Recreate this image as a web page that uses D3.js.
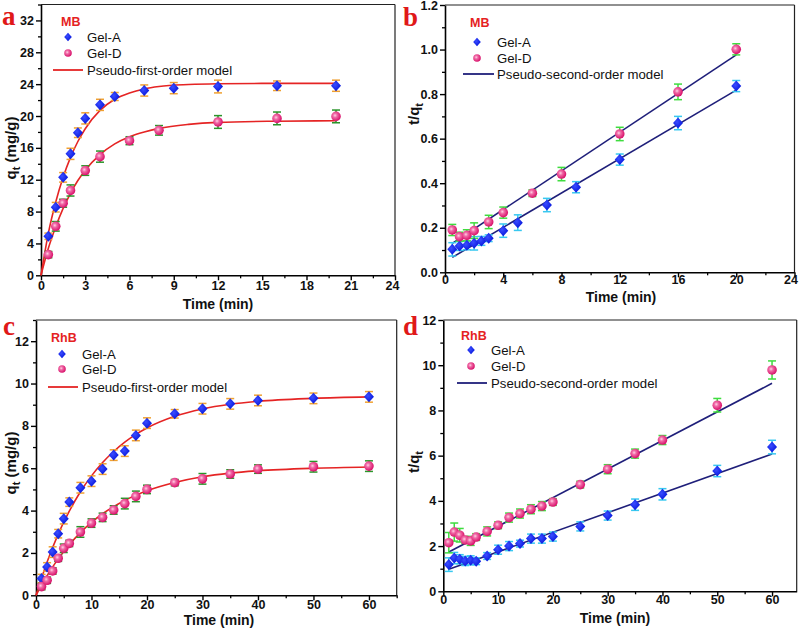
<!DOCTYPE html>
<html><head><meta charset="utf-8">
<script src="https://cdn.jsdelivr.net/npm/d3@7"></script>
<style>body{margin:0;background:#fff}</style></head>
<body>
<svg id="chart" width="800" height="632"></svg>
<script>
// ---------- Panel a : MB, pseudo-first-order ----------
const tA_a = [0.5,1,1.5,2,2.5,3,4,5,7,9,12,16,20];
const qA_a = [4.9,8.55,12.3,15.25,17.9,19.7,21.4,22.45,23.2,23.5,23.7,23.8,23.8];
const eA_a = [0.4,0.6,0.6,0.7,0.6,0.7,0.7,0.5,0.7,0.7,0.8,0.6,0.7];
const tD_a = [0.5,1,1.5,2,3,4,6,8,12,16,20];
const qD_a = [2.6,6.15,9.05,10.65,13.15,14.9,16.9,18.2,19.25,19.7,19.95];
const eD_a = [0.4,0.6,0.5,0.7,0.6,0.7,0.5,0.6,0.8,0.8,0.8];
const fitT_a = [0,0.5,1,1.5,2,2.5,3,4,5,6,7,8,10,12,16,20];
const fitA_a = [0,5.3,9.2,12.3,14.8,16.8,18.4,20.7,22.1,22.9,23.4,23.7,23.95,24.05,24.1,24.1];
const fitD_a = [0,3.4,6.1,8.4,10.3,11.9,13.2,15.15,16.5,17.4,18.0,18.45,18.95,19.2,19.35,19.4];
// ---------- Panel b : MB, pseudo-second-order ----------
const tA_b = [0.5,1,1.5,2,2.5,3,4,5,7,9,12,16,20];
const qA_b = [0.103,0.118,0.121,0.130,0.141,0.153,0.187,0.223,0.302,0.382,0.506,0.670,0.836];
const eA_b = [0.03,0.02,0.02,0.03,0.02,0.015,0.03,0.035,0.03,0.025,0.025,0.03,0.025];
const tD_b = [0.5,1,1.5,2,3,4,6,8,12,16,20];
const qD_b = [0.19,0.16,0.166,0.187,0.226,0.268,0.355,0.441,0.621,0.81,1.001];
const eD_b = [0.025,0.02,0.025,0.035,0.03,0.025,0.015,0.03,0.03,0.035,0.025];
const lineT_b = [0.5,20];
const lineA_b = [0.067,0.818];
const lineD_b = [0.13,0.976];
// ---------- Panel c : RhB, pseudo-first-order ----------
const tA_c = [1,2,3,4,5,6,8,10,12,14,16,18,20,25,30,35,40,50,60];
const qA_c = [0.79,1.34,2.04,2.91,3.62,4.40,5.08,5.39,5.96,6.62,6.81,7.55,8.13,8.57,8.81,9.04,9.2,9.3,9.37];
const eA_c = [0.2,0.2,0.25,0.2,0.25,0.2,0.25,0.25,0.25,0.25,0.25,0.25,0.25,0.2,0.25,0.25,0.25,0.25,0.25];
const tD_c = [1,2,3,4,5,6,8,10,12,14,16,18,20,25,30,35,40,50,60];
const qD_c = [0.41,0.71,1.15,1.75,2.22,2.45,2.99,3.41,3.68,4.03,4.33,4.67,5.0,5.32,5.5,5.73,5.96,6.07,6.1];
const eD_c = [0.15,0.15,0.15,0.15,0.2,0.15,0.25,0.2,0.2,0.2,0.25,0.25,0.2,0.15,0.25,0.2,0.2,0.25,0.25];
const fitT_c = [0,2,4,6,8,10,12,14,16,18,20,25,30,35,40,50,60];
const fitA_c = [0,1.57,2.89,3.97,4.89,5.64,6.27,6.79,7.23,7.6,7.9,8.45,8.8,9.02,9.16,9.3,9.37];
const fitD_c = [0,0.93,1.72,2.39,2.96,3.44,3.85,4.19,4.48,4.73,4.94,5.33,5.6,5.77,5.88,6.0,6.06];
// ---------- Panel d : RhB, pseudo-second-order ----------
const tA_d = [1,2,3,4,5,6,8,10,12,14,16,18,20,25,30,35,40,50,60];
const qA_d = [1.18,1.47,1.42,1.34,1.37,1.33,1.56,1.84,2.0,2.11,2.33,2.33,2.42,2.87,3.35,3.83,4.29,5.32,6.38];
const eA_d = [0.3,0.25,0.2,0.2,0.2,0.15,0.15,0.2,0.2,0.15,0.2,0.2,0.2,0.2,0.2,0.25,0.25,0.25,0.3];
const tD_d = [1,2,3,4,5,6,8,10,12,14,16,18,20,25,30,35,40,50,60];
const qD_d = [2.15,2.62,2.48,2.27,2.23,2.4,2.65,2.92,3.26,3.44,3.63,3.77,3.95,4.72,5.4,6.09,6.69,8.23,9.79];
const eD_d = [0.45,0.4,0.3,0.15,0.2,0.15,0.2,0.15,0.2,0.2,0.2,0.2,0.15,0.15,0.2,0.2,0.2,0.3,0.4];
const lineT_d = [1,60];
const lineA_d = [0.97,6.07];
const lineD_d = [1.74,9.2];

// ---------- Labels ----------
const seriesNames = ["Gel-A","Gel-D"];
const modelNames = ["Pseudo-first-order model","Pseudo-second-order model"];
const panelLetters = ["a","b","c","d"];
const dyeNames = ["MB","MB","RhB","RhB"];
const xTicks_ab = [0,3,6,9,12,15,18,21,24];
const xTicks_b = [0,4,8,12,16,20,24];
const xTicks_cd = [0,10,20,30,40,50,60];
const yTicks_a = [0,4,8,12,16,20,24,28,32];
const yTicks_b = [0,0.2,0.4,0.6,0.8,1.0,1.2];
const yTicks_c = [0,2,4,6,8,10,12];
const yTicks_d = [0,2,4,6,8,10,12];

const svg = d3.select("#chart");
const defs = svg.append("defs");
const rg = defs.append("radialGradient").attr("id","sph").attr("cx","0.4").attr("cy","0.4").attr("r","0.6");
rg.append("stop").attr("offset","0").attr("stop-color","#ffd0e4");
rg.append("stop").attr("offset","0.35").attr("stop-color","#f06aa6");
rg.append("stop").attr("offset","1").attr("stop-color","#d8106a");
const bg = defs.append("radialGradient").attr("id","dia").attr("cx","0.4").attr("cy","0.4").attr("r","0.7");
bg.append("stop").attr("offset","0").attr("stop-color","#3a4cff");
bg.append("stop").attr("offset","1").attr("stop-color","#0010d8");

const FONT = "'Liberation Sans', Arial, sans-serif";

function diamond(g, x, y, hw, hh){
  g.append("path").attr("d",`M${x},${y-hh}L${x+hw},${y}L${x},${y+hh}L${x-hw},${y}Z`).attr("fill","url(#dia)");
}
function sphere(g, x, y, r){
  g.append("circle").attr("cx",x).attr("cy",y).attr("r",r).attr("fill","url(#sph)");
}

function panel(cfg){
  const x = d3.scaleLinear().domain(cfg.xd).range([cfg.l, cfg.r]);
  const y = d3.scaleLinear().domain(cfg.yd).range([cfg.b, cfg.t]);
  const g = svg.append("g");
  // minor ticks
  g.append("g").attr("transform",`translate(0,${cfg.b})`)
    .call(d3.axisBottom(x).tickValues(cfg.xMinor).tickSize(3).tickFormat(""))
    .call(s=>s.select(".domain").remove()).selectAll("line").attr("stroke-width",1.3);
  g.append("g").attr("transform",`translate(${cfg.l},0)`)
    .call(d3.axisLeft(y).tickValues(cfg.yMinor).tickSize(3).tickFormat(""))
    .call(s=>s.select(".domain").remove()).selectAll("line").attr("stroke-width",1.3);
  // major axes
  const xa = g.append("g").attr("transform",`translate(0,${cfg.b})`)
    .call(d3.axisBottom(x).tickValues(cfg.xTicks).tickSize(5).tickPadding(cfg.xPad).tickSizeOuter(0).tickFormat(d3.format("d")));
  const ya = g.append("g").attr("transform",`translate(${cfg.l},0)`)
    .call(d3.axisLeft(y).tickValues(cfg.yTicks).tickSize(5).tickPadding(2).tickSizeOuter(0).tickFormat(cfg.yFmt));
  [xa,ya].forEach(a=>{
    a.select(".domain").attr("stroke-width",1.6);
    a.selectAll(".tick line").attr("stroke-width",1.4);
    a.selectAll("text").attr("font-family",FONT).attr("font-weight","bold").attr("font-size",12.5).attr("fill","#111");
  });
  if(cfg.lastShift){
    xa.selectAll(".tick text").filter((d,i,n)=>i===n.length-1).attr("dx",cfg.lastShift);
  }
  // frame top/right
  g.append("line").attr("x1",cfg.l).attr("x2",cfg.r).attr("y1",cfg.t).attr("y2",cfg.t).attr("stroke","#222").attr("stroke-width",1.2);
  g.append("line").attr("x1",cfg.r).attr("x2",cfg.r).attr("y1",cfg.t).attr("y2",cfg.b).attr("stroke","#222").attr("stroke-width",1.2);

  // fits
  const line = d3.line().x(d=>x(d[0])).y(d=>y(d[1]));
  if(cfg.smooth) line.curve(d3.curveMonotoneX);
  [cfg.fitA, cfg.fitD].forEach(f=>{
    g.append("path").attr("d", line(cfg.fitT.map((t,i)=>[t,f[i]])))
      .attr("fill","none").attr("stroke",cfg.lineColor).attr("stroke-width",1.6);
  });
  // error bars + markers
  const sets = [
    {t:cfg.tA,q:cfg.qA,e:cfg.eA,c:cfg.errA,type:"A"},
    {t:cfg.tD,q:cfg.qD,e:cfg.eD,c:cfg.errD,type:"D"}
  ];
  sets.forEach(s=>{
    s.t.forEach((t,i)=>{
      const cx = x(t), y1 = y(s.q[i]-s.e[i]), y2 = y(s.q[i]+s.e[i]);
      g.append("line").attr("x1",cx).attr("x2",cx).attr("y1",y1).attr("y2",y2).attr("stroke",s.c).attr("stroke-width",1.5);
      [y1,y2].forEach(yy=>g.append("line").attr("x1",cx-4).attr("x2",cx+4).attr("y1",yy).attr("y2",yy).attr("stroke",s.c).attr("stroke-width",1.5));
    });
  });
  sets.forEach(s=>{
    s.t.forEach((t,i)=>{
      if(s.type==="A") diamond(g, x(t), y(s.q[i]), 5, 5.5);
      else sphere(g, x(t), y(s.q[i]), 4.8);
    });
  });

  // panel letter
  svg.append("text").attr("x",cfg.letterX).attr("y",cfg.letterY).text(cfg.letter)
    .attr("font-family","'Liberation Serif','Times New Roman',serif").attr("font-weight","bold")
    .attr("font-size",27).attr("fill","#e01818");
  // dye label
  svg.append("text").attr("x",cfg.dyeX).attr("y",cfg.dyeY).text(cfg.dye)
    .attr("font-family",FONT).attr("font-weight","bold").attr("font-size",12.5).attr("fill","#e52222");
  // legend
  diamond(svg, cfg.legMX, cfg.legY1, 3.8, 4.3);
  sphere(svg, cfg.legMX, cfg.legY2, 3.8);
  svg.append("line").attr("x1",cfg.legL1).attr("x2",cfg.legL2).attr("y1",cfg.legY3).attr("y2",cfg.legY3)
    .attr("stroke",cfg.lineColor).attr("stroke-width",1.8);
  [[seriesNames[0],cfg.legY1],[seriesNames[1],cfg.legY2],[cfg.model,cfg.legY3]].forEach(([txt,yy])=>{
    svg.append("text").attr("x",cfg.legTX).attr("y",yy+4.6).text(txt)
      .attr("font-family",FONT).attr("font-size",13.2).attr("fill","#111");
  });
  // axis titles
  svg.append("text").attr("x",cfg.xtX).attr("y",cfg.xtY).attr("text-anchor","middle").text("Time (min)")
    .attr("font-family",FONT).attr("font-weight","bold").attr("font-size",14).attr("fill","#111");
  const yt = svg.append("text").attr("transform",`translate(${cfg.ytX},${cfg.ytY}) rotate(-90)`)
    .attr("text-anchor","middle").attr("font-family",FONT).attr("font-weight","bold").attr("font-size",15).attr("fill","#111");
  if(cfg.ytType==="q"){
    yt.append("tspan").text("q");
    yt.append("tspan").attr("font-size",11).attr("dy",4).text("t");
    yt.append("tspan").attr("dy",-4).text(" (mg/g)");
  } else {
    yt.append("tspan").text("t/q");
    yt.append("tspan").attr("font-size",11).attr("dy",4).text("t");
  }
}

const range = (a,b,s)=>d3.range(a,b+1e-9,s);

panel({l:41,r:395,t:4.5,b:275.3,xd:[0,24],yd:[0,34],xPad:1,lastShift:-3,
  xTicks:xTicks_ab,yTicks:yTicks_a,xMinor:range(1.5,24,3),yMinor:range(2,34,4),yFmt:d3.format("d"),
  tA:tA_a,qA:qA_a,eA:eA_a,tD:tD_a,qD:qD_a,eD:eD_a,fitT:fitT_a,fitA:fitA_a,fitD:fitD_a,smooth:true,
  lineColor:"#e52424",errA:"#f0a030",errD:"#2a952a",
  letter:panelLetters[0],letterX:2,letterY:25,dye:dyeNames[0],dyeX:61,dyeY:26,
  legMX:68,legY1:37,legY2:53,legY3:70,legL1:53,legL2:83,legTX:87,model:modelNames[0],
  xtX:218,xtY:309,ytX:16,ytY:148,ytType:"q"});

panel({l:445,r:794.5,t:5,b:272.3,xd:[0,24],yd:[0,1.2],xPad:-2.5,lastShift:-4,
  xTicks:xTicks_b,yTicks:yTicks_b,xMinor:range(2,24,4),yMinor:range(0.1,1.2,0.2),yFmt:d3.format(".1f"),
  tA:tA_b,qA:qA_b,eA:eA_b,tD:tD_b,qD:qD_b,eD:eD_b,fitT:lineT_b,fitA:lineA_b,fitD:lineD_b,smooth:false,
  lineColor:"#1f1f7a",errA:"#38c8f0",errD:"#3fdc3f",
  letter:panelLetters[1],letterX:403,letterY:26,dye:dyeNames[1],dyeX:470,dyeY:27,
  legMX:477,legY1:42,legY2:58,legY3:74,legL1:463,legL2:494,legTX:497,model:modelNames[1],
  xtX:621,xtY:302,ytX:419,ytY:114,ytType:"t"});

panel({l:36,r:396.7,t:320,b:595.3,xd:[0,65],yd:[0,13],xPad:-0.5,
  xTicks:xTicks_cd,yTicks:yTicks_c,xMinor:range(5,65,10),yMinor:range(1,13,2),yFmt:d3.format("d"),
  tA:tA_c,qA:qA_c,eA:eA_c,tD:tD_c,qD:qD_c,eD:eD_c,fitT:fitT_c,fitA:fitA_c,fitD:fitD_c,smooth:true,
  lineColor:"#e52424",errA:"#f0a030",errD:"#2a952a",
  letter:panelLetters[2],letterX:3,letterY:335,dye:dyeNames[2],dyeX:51,dyeY:342,
  legMX:62,legY1:354,legY2:369,legY3:387,legL1:48,legL2:78,legTX:82,model:modelNames[0],
  xtX:219,xtY:625,ytX:16,ytY:463,ytType:"q"});

panel({l:443.3,r:796.7,t:320,b:591.3,xd:[0,64.5],yd:[0,12],xPad:-1,
  xTicks:xTicks_cd,yTicks:yTicks_d,xMinor:range(5,64.5,10),yMinor:range(1,12,2),yFmt:d3.format("d"),
  tA:tA_d,qA:qA_d,eA:eA_d,tD:tD_d,qD:qD_d,eD:eD_d,fitT:lineT_d,fitA:lineA_d,fitD:lineD_d,smooth:false,
  lineColor:"#1f1f7a",errA:"#38c8f0",errD:"#3fdc3f",
  letter:panelLetters[3],letterX:403,letterY:335,dye:dyeNames[3],dyeX:461,dyeY:340,
  legMX:471,legY1:350,legY2:366,legY3:383,legL1:457,legL2:487,legTX:491,model:modelNames[1],
  xtX:615,xtY:623,ytX:419,ytY:462,ytType:"t"});
</script>
</body></html>
